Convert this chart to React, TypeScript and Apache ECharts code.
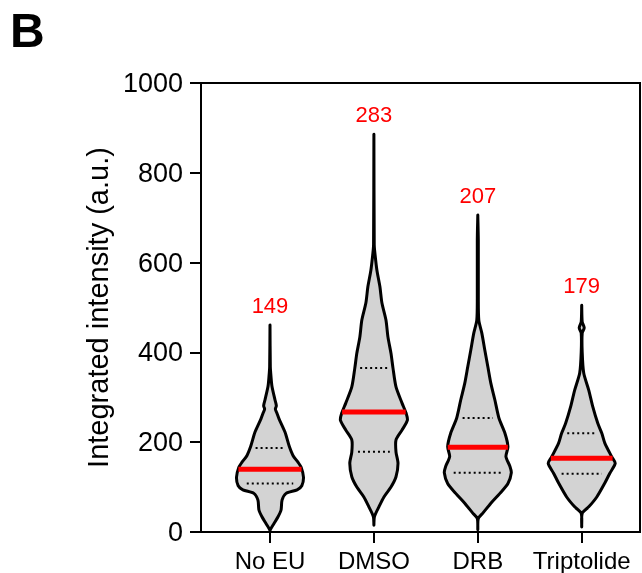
import React, { useEffect, useRef } from "react";
import * as echarts from "echarts";

const categories = ["No EU", "DMSO", "DRB", "Triptolide"];
const topLabels = ["149", "283", "207", "179"];
const medians = [140, 267, 189, 164];
const q1 = [108, 179, 132, 130];
const q3 = [187, 365, 254, 220];
const yTicks = [0, 200, 400, 600, 800, 1000];

// violin outlines: value levels and relative half-widths (1 = widest)
const noEuLevels = [3, 6, 19, 34, 49, 71, 86, 94, 103, 122, 144, 155, 170, 192, 222, 252, 266, 274, 281, 294, 324, 346, 368, 461];
const noEuWidths = [0, 0.015, 0.12, 0.24, 0.33, 0.36, 0.48, 0.81, 0.95, 1, 0.93, 0.84, 0.69, 0.57, 0.45, 0.27, 0.2, 0.16, 0.19, 0.15, 0.06, 0.03, 0.01, 0];

const dmsoLevels = [15, 34, 56, 78, 100, 123, 153, 178, 205, 227, 249, 265, 287, 323, 365, 398, 434, 472, 510, 546, 583, 621, 640, 886];
const dmsoWidths = [0, 0.015, 0.15, 0.3, 0.51, 0.66, 0.72, 0.66, 0.66, 0.84, 1, 0.96, 0.84, 0.66, 0.57, 0.51, 0.42, 0.36, 0.24, 0.18, 0.09, 0.03, 0.01, 0];

const drbLevels = [5, 30, 42, 64, 86, 108, 132, 146, 168, 190, 220, 254, 294, 331, 368, 405, 443, 472, 520, 650, 706];
const drbWidths = [0, 0.015, 0.15, 0.39, 0.66, 0.9, 1, 0.96, 0.84, 0.9, 0.81, 0.63, 0.51, 0.39, 0.3, 0.21, 0.12, 0.03, 0.015, 0.015, 0];

const tripLevels = [11, 42, 56, 78, 109, 131, 153, 167, 198, 220, 242, 279, 316, 354, 400, 443, 455, 468, 505];
const tripWidths = [0, 0.015, 0.21, 0.45, 0.69, 0.84, 1, 0.9, 0.69, 0.6, 0.48, 0.33, 0.21, 0.06, 0.015, 0.015, 0.075, 0.015, 0];

const levelSets = [noEuLevels, dmsoLevels, drbLevels, tripLevels];
const widthSets = [noEuWidths, dmsoWidths, drbWidths, tripWidths];

const FONT = "'Liberation Sans', Arial, Helvetica, sans-serif";
const MAX_HALF = 0.3224; // x-axis units

function widthAt(levels: number[], widths: number[], v: number) {
  for (let k = 0; k < levels.length - 1; k++) {
    if (v >= levels[k] && v <= levels[k + 1]) {
      const t = (v - levels[k]) / (levels[k + 1] - levels[k]);
      return widths[k] + t * (widths[k + 1] - widths[k]);
    }
  }
  return 0;
}

export default function App() {
  const ref = useRef<HTMLDivElement>(null);
  useEffect(() => {
    if (!ref.current) return;
    const chart = echarts.init(ref.current, undefined, { renderer: "svg" });
    const option: any = {
      animation: false,
      textStyle: { fontFamily: FONT },
      graphic: [
        {
          type: "text",
          x: 10,
          y: 30,
          style: {
            text: "B",
            fontSize: 48,
            fontWeight: "bold",
            fontFamily: FONT,
            fill: "#000",
            align: "left",
            verticalAlign: "middle",
          },
        },
      ],
      grid: {
        left: 201,
        top: 83,
        right: 2,
        bottom: 41,
        show: true,
        borderColor: "#000",
        borderWidth: 2,
        backgroundColor: "transparent",
      },
      xAxis: {
        type: "value",
        min: 0.336,
        max: 4.561,
        splitLine: { show: false },
        axisLine: { show: true, lineStyle: { color: "#000", width: 2 } },
        axisTick: {
          show: true,
          length: 11,
          customValues: [1, 2, 3, 4],
          lineStyle: { color: "#000", width: 2 },
        },
        axisLabel: {
          customValues: [1, 2, 3, 4],
          formatter: (v: number) => categories[Math.round(v) - 1] ?? "",
          fontSize: 24,
          color: "#000",
          margin: 16,
          fontFamily: FONT,
        },
      },
      yAxis: {
        type: "value",
        min: 0,
        max: 1000,
        interval: 200,
        name: "Integrated intensity (a.u.)",
        nameLocation: "middle",
        nameGap: 88,
        nameTextStyle: { fontSize: 29, color: "#000", fontFamily: FONT },
        splitLine: { show: false },
        axisLine: { show: true, lineStyle: { color: "#000", width: 2 } },
        axisTick: { show: true, length: 11, lineStyle: { color: "#000", width: 2 } },
        axisLabel: {
          fontSize: 27,
          color: "#000",
          margin: 18,
          fontFamily: FONT,
          formatter: (v: number) => (yTicks.includes(v) ? String(v) : ""),
        },
      },
      series: [
        {
          type: "custom",
          data: categories.map((_, i) => [i + 1, 0]),
          encode: { x: 0, y: 1 },
          clip: false,
          renderItem: (params: any, api: any) => {
            const i = params.dataIndex;
            const xv = api.value(0);
            const levels = levelSets[i];
            const widths = widthSets[i];
            const half = api.size([MAX_HALF, 0])[0];
            const cx = api.coord([xv, 0])[0];
            const yOf = (v: number) => api.coord([xv, v])[1];
            const rightPts = levels.map((v, k) => [cx + widths[k] * half, yOf(v)]);
            const leftPts = levels
              .map((v, k) => [cx - widths[k] * half, yOf(v)])
              .reverse();
            const pts = rightPts.concat(leftPts);
            const hw = (v: number) => widthAt(levels, widths, v) * half;
            const dotted = (v: number) => {
              const w = hw(v) * 0.72;
              return {
                type: "line",
                shape: { x1: cx - w, y1: yOf(v), x2: cx + w, y2: yOf(v) },
                style: { stroke: "#000", lineWidth: 2, lineDash: [2, 3] },
              };
            };
            const mw = hw(medians[i]);
            const topY = yOf(levels[levels.length - 1]);
            return {
              type: "group",
              children: [
                {
                  type: "polygon",
                  shape: { points: pts, smooth: 0.25 },
                  style: { fill: "#d3d3d3", stroke: "#000", lineWidth: 3, lineJoin: "round" },
                },
                dotted(q1[i]),
                dotted(q3[i]),
                {
                  type: "line",
                  shape: { x1: cx - mw, y1: yOf(medians[i]), x2: cx + mw, y2: yOf(medians[i]) },
                  style: { stroke: "#ff0000", lineWidth: 5 },
                },
                {
                  type: "text",
                  style: {
                    text: topLabels[i],
                    x: cx,
                    y: topY - 20,
                    fill: "#ff0000",
                    fontSize: 22,
                    fontFamily: FONT,
                    align: "center",
                    verticalAlign: "middle",
                  },
                },
              ],
            };
          },
        },
      ],
    };
    chart.setOption(option);
    return () => chart.dispose();
  }, []);
  return (
    <div
      ref={ref}
      style={{ position: "fixed", left: 0, top: 0, width: 642, height: 573 }}
    />
  );
}
